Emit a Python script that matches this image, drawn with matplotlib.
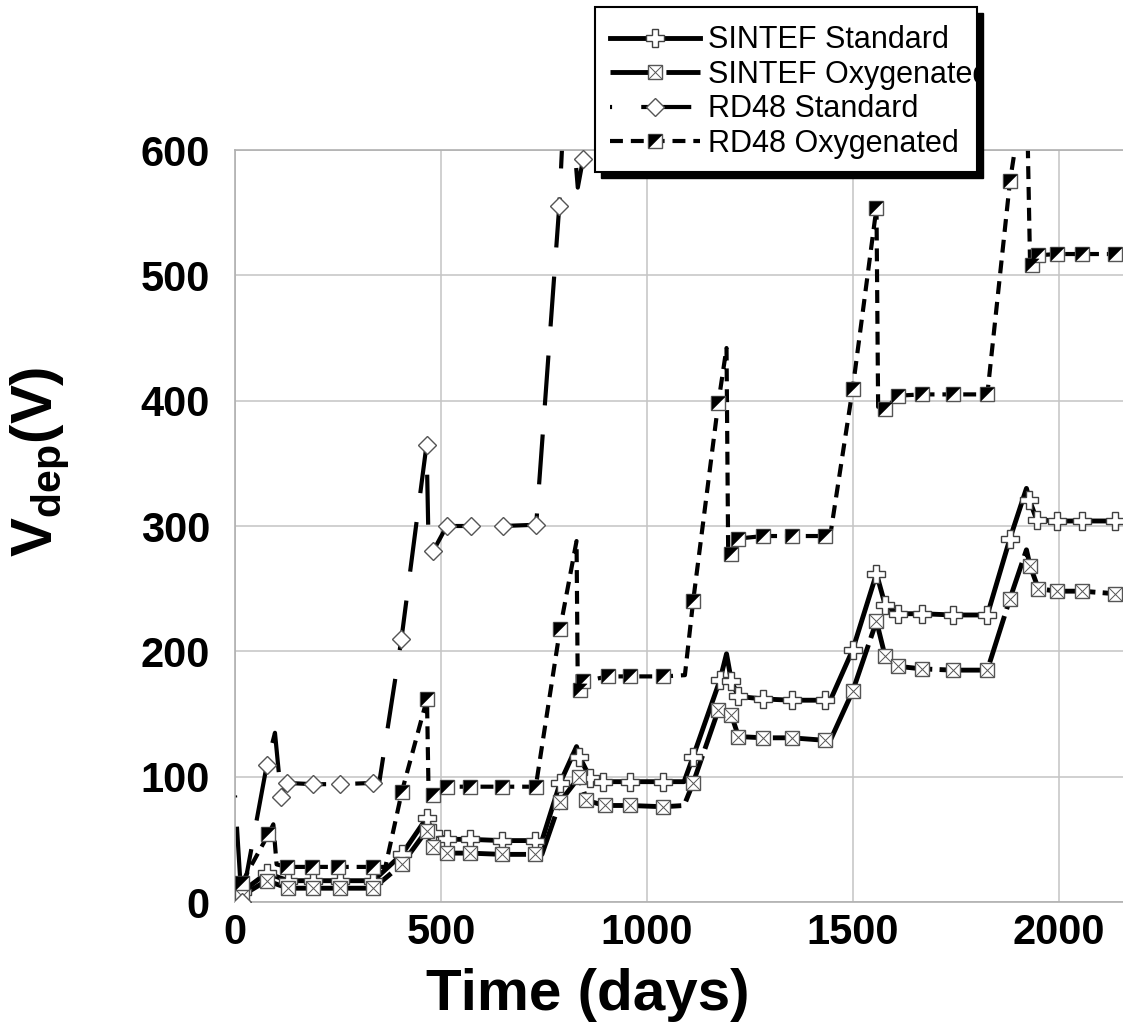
import matplotlib.pyplot as plt
from matplotlib.patches import Rectangle
from matplotlib.legend_handler import HandlerTuple

plt.rcParams['font.family'] = ['Liberation Sans', 'DejaVu Sans']
plt.rcParams['mathtext.fontset'] = 'custom'
plt.rcParams['mathtext.rm'] = 'Liberation Sans'
plt.rcParams['mathtext.bf'] = 'Liberation Sans:bold'

# SINTEF Standard
sstd_mark_t = [16, 77, 129, 190, 255, 336, 405, 465, 481, 514, 570, 647, 728, 789, 836, 862, 894, 959, 1040,
               1112, 1177, 1205, 1222, 1282, 1351, 1432, 1499, 1557, 1578, 1610, 1667, 1743, 1826, 1881, 1928,
               1946, 1994, 2055, 2136]
sstd_mark_v = [8, 23, 17, 17, 17, 17, 38, 67, 55, 50, 50, 49, 49, 95, 116, 99, 96, 96, 96,
               116, 177, 176, 164, 162, 161, 161, 201, 262, 237, 230, 230, 229, 229, 290, 321,
               305, 304, 304, 304]
sstd_line_t = [16, 77, 129, 190, 255, 336, 405, 465, 481, 514, 570, 647, 728, 745, 789, 829, 836, 862, 894, 959,
               1040, 1090, 1112, 1177, 1193, 1205, 1222, 1282, 1351, 1432, 1445, 1499, 1557, 1578, 1610, 1667,
               1743, 1826, 1881, 1921, 1928, 1946, 1994, 2055, 2136]
sstd_line_v = [8, 23, 17, 17, 17, 17, 38, 67, 55, 50, 50, 49, 49, 49, 95, 124, 116, 99, 96, 96,
               96, 96, 116, 177, 198, 176, 164, 162, 161, 161, 161, 201, 262, 237, 230, 230,
               229, 229, 290, 330, 321, 305, 304, 304, 304]

# SINTEF Oxygenated
soxy_mark_t = [16, 77, 129, 190, 255, 336, 405, 465, 481, 514, 570, 647, 728, 789, 836, 853, 898, 959, 1040,
               1112, 1173, 1205, 1222, 1282, 1351, 1432, 1499, 1557, 1578, 1610, 1667, 1743, 1826, 1881, 1930,
               1950, 1994, 2055, 2136]
soxy_mark_v = [5, 17, 11, 11, 11, 11, 30, 57, 44, 39, 39, 38, 38, 80, 100, 81, 77, 77, 76,
               95, 153, 149, 132, 131, 131, 129, 168, 224, 196, 188, 186, 185, 185, 242, 268,
               250, 248, 248, 246]
soxy_line_t = [16, 77, 129, 190, 255, 336, 405, 465, 481, 514, 570, 647, 728, 745, 789, 836, 853, 898, 959,
               1040, 1090, 1112, 1173, 1205, 1222, 1282, 1351, 1432, 1445, 1499, 1557, 1578, 1610, 1667,
               1743, 1826, 1881, 1921, 1930, 1950, 1994, 2055, 2136]
soxy_line_v = [5, 17, 11, 11, 11, 11, 30, 57, 44, 39, 39, 38, 38, 38, 80, 100, 81, 77, 77,
               76, 77, 95, 153, 149, 132, 131, 131, 129, 129, 168, 224, 196, 188, 186,
               185, 185, 242, 281, 268, 250, 248, 248, 246]

# RD48 Standard
rstd_mark_t = [16, 77, 112, 125, 190, 255, 335, 404, 465, 481, 514, 572, 650, 731, 787, 845]
rstd_mark_v = [0, 109, 84, 95, 94, 94, 95, 210, 365, 280, 300, 300, 300, 301, 555, 593]
rstd_line_t = [0, 16, 77, 97, 112, 125, 190, 255, 335, 350, 404, 465, 470, 481, 514, 572, 650, 731, 787,
               805, 832, 845]
rstd_line_v = [85, 0, 109, 135, 84, 95, 94, 94, 95, 95, 210, 365, 282, 280, 300, 300, 300, 301, 555,
               680, 570, 593]

# RD48 Oxygenated
roxy_mark_t = [16, 81, 125, 186, 251, 336, 405, 466, 480, 514, 570, 647, 730, 789, 838, 845, 906, 959, 1040,
               1112, 1173, 1205, 1222, 1282, 1351, 1432, 1499, 1557, 1578, 1610, 1667, 1743, 1826, 1881, 1935,
               1950, 1994, 2055, 2136]
roxy_mark_v = [15, 54, 28, 28, 28, 28, 88, 162, 85, 92, 92, 92, 92, 218, 169, 176, 180, 180, 180,
               240, 398, 278, 290, 292, 292, 292, 409, 554, 393, 404, 405, 405, 405, 575, 508,
               516, 517, 517, 517]
roxy_line_t = [16, 81, 93, 101, 125, 186, 251, 336, 365, 405, 466, 470, 480, 514, 570, 647, 730, 789, 829,
               832, 838, 845, 906, 959, 1040, 1092, 1112, 1173, 1193, 1197, 1205, 1222, 1282, 1351, 1432,
               1445, 1499, 1557, 1561, 1578, 1610, 1667, 1743, 1826, 1881, 1921, 1930, 1935, 1950, 1994,
               2055, 2136]
roxy_line_v = [15, 54, 62, 30, 28, 28, 28, 28, 28, 88, 162, 84, 85, 92, 92, 92, 92, 218, 288,
               170, 169, 176, 180, 180, 180, 181, 240, 398, 442, 280, 278, 290, 292, 292, 292,
               293, 409, 554, 395, 393, 404, 405, 405, 405, 575, 660, 505, 508, 516, 517,
               517, 517]

labels = ['SINTEF Standard', 'SINTEF Oxygenated', 'RD48 Standard', 'RD48 Oxygenated']

fig = plt.figure(figsize=(11.23, 10.36), dpi=100)
ax = fig.add_axes([235 / 1123, 134 / 1036, 888 / 1123, 752 / 1036])

edge = '#555555'
l1, = ax.plot(sstd_line_t, sstd_line_v, color='black', lw=3.5, ls='-', zorder=2)
l2, = ax.plot(soxy_line_t, soxy_line_v, color='black', lw=3.5, ls=(0, (10, 1.5)), zorder=2)
l3, = ax.plot(rstd_line_t, rstd_line_v, color='black', lw=3, ls=(11.5, (12, 7)), zorder=2)
l4, = ax.plot(roxy_line_t, roxy_line_v, color='black', lw=3, ls=(0, (3.1, 1.9)), zorder=2)

m1, = ax.plot(sstd_mark_t, sstd_mark_v, ls='none', marker='P', ms=12.5, mfc='white', mec='#404040', mew=1, zorder=3)
m2a, = ax.plot(soxy_mark_t, soxy_mark_v, ls='none', marker='s', ms=9.5, mfc='white', mec=edge, mew=1, zorder=3)
m2b, = ax.plot(soxy_mark_t, soxy_mark_v, ls='none', marker='x', ms=9.5, mec=edge, mew=0.7, zorder=3)
m3, = ax.plot(rstd_mark_t, rstd_mark_v, ls='none', marker='D', ms=9, mfc='white', mec=edge, mew=1, zorder=3)
tri = [(-1, 1), (1, 1), (-1, -1)]
m4a, = ax.plot(roxy_mark_t, roxy_mark_v, ls='none', marker='s', ms=9.5, mfc='white', mec=edge, mew=1, zorder=3)
m4b, = ax.plot(roxy_mark_t, roxy_mark_v, ls='none', marker=tri, ms=9.5, mfc='black', mec='black', mew=0.3, zorder=3)

ax.set_xlim(0, 888 / 0.412)
ax.set_ylim(0, 600)
ax.set_xticks([0, 500, 1000, 1500, 2000])
ax.set_yticks([0, 100, 200, 300, 400, 500, 600])
ax.grid(True, color='#c4c4c4', lw=1.1)
for s in ['left', 'bottom', 'top']:
    ax.spines[s].set_color('#b0b0b0')
    ax.spines[s].set_linewidth(1.2)
ax.spines['right'].set_visible(False)
ax.tick_params(length=0, labelsize=30)
ax.tick_params(axis='y', pad=18)
ax.tick_params(axis='x', pad=8)
for lab in ax.get_xticklabels() + ax.get_yticklabels():
    lab.set_fontweight('bold')

fig.text(588 / 1123, 1 - 995 / 1036, 'Time (days)', fontsize=42, fontweight='bold', ha='center', va='center')
fig.text(40 / 1123, 1 - 462 / 1036, r'$\mathbf{V_{dep}}$(V)', fontsize=42, fontweight='bold',
         rotation=90, ha='center', va='center')

# legend box with a solid black shadow, drawn by hand so the text is cut at the frame like the original
W, H = 1123, 1036
shadow = Rectangle((601 / W, 1 - 178 / H), 382 / W, 165 / H, transform=fig.transFigure,
                   facecolor='black', edgecolor='black', zorder=4)
frame = Rectangle((595 / W, 1 - 172 / H), 382 / W, 165 / H, transform=fig.transFigure,
                  facecolor='white', edgecolor='black', lw=1.5, zorder=4)
fig.patches.extend([shadow, frame])

leg = fig.legend([(l1, m1), (l2, m2a, m2b), (l3, m3), (l4, m4a, m4b)], labels,
                 handler_map={tuple: HandlerTuple(ndivide=1)},
                 loc='upper left', bbox_to_anchor=(595 / W, 1 - 10 / H), borderaxespad=0,
                 fontsize=22, numpoints=1, handlelength=2.95, handletextpad=0.26,
                 labelspacing=0.15, borderpad=0.5, frameon=False)
leg.set_zorder(5)
for t in leg.get_texts():
    t.set_clip_path(frame)

fig.savefig('out.png', dpi=100)
